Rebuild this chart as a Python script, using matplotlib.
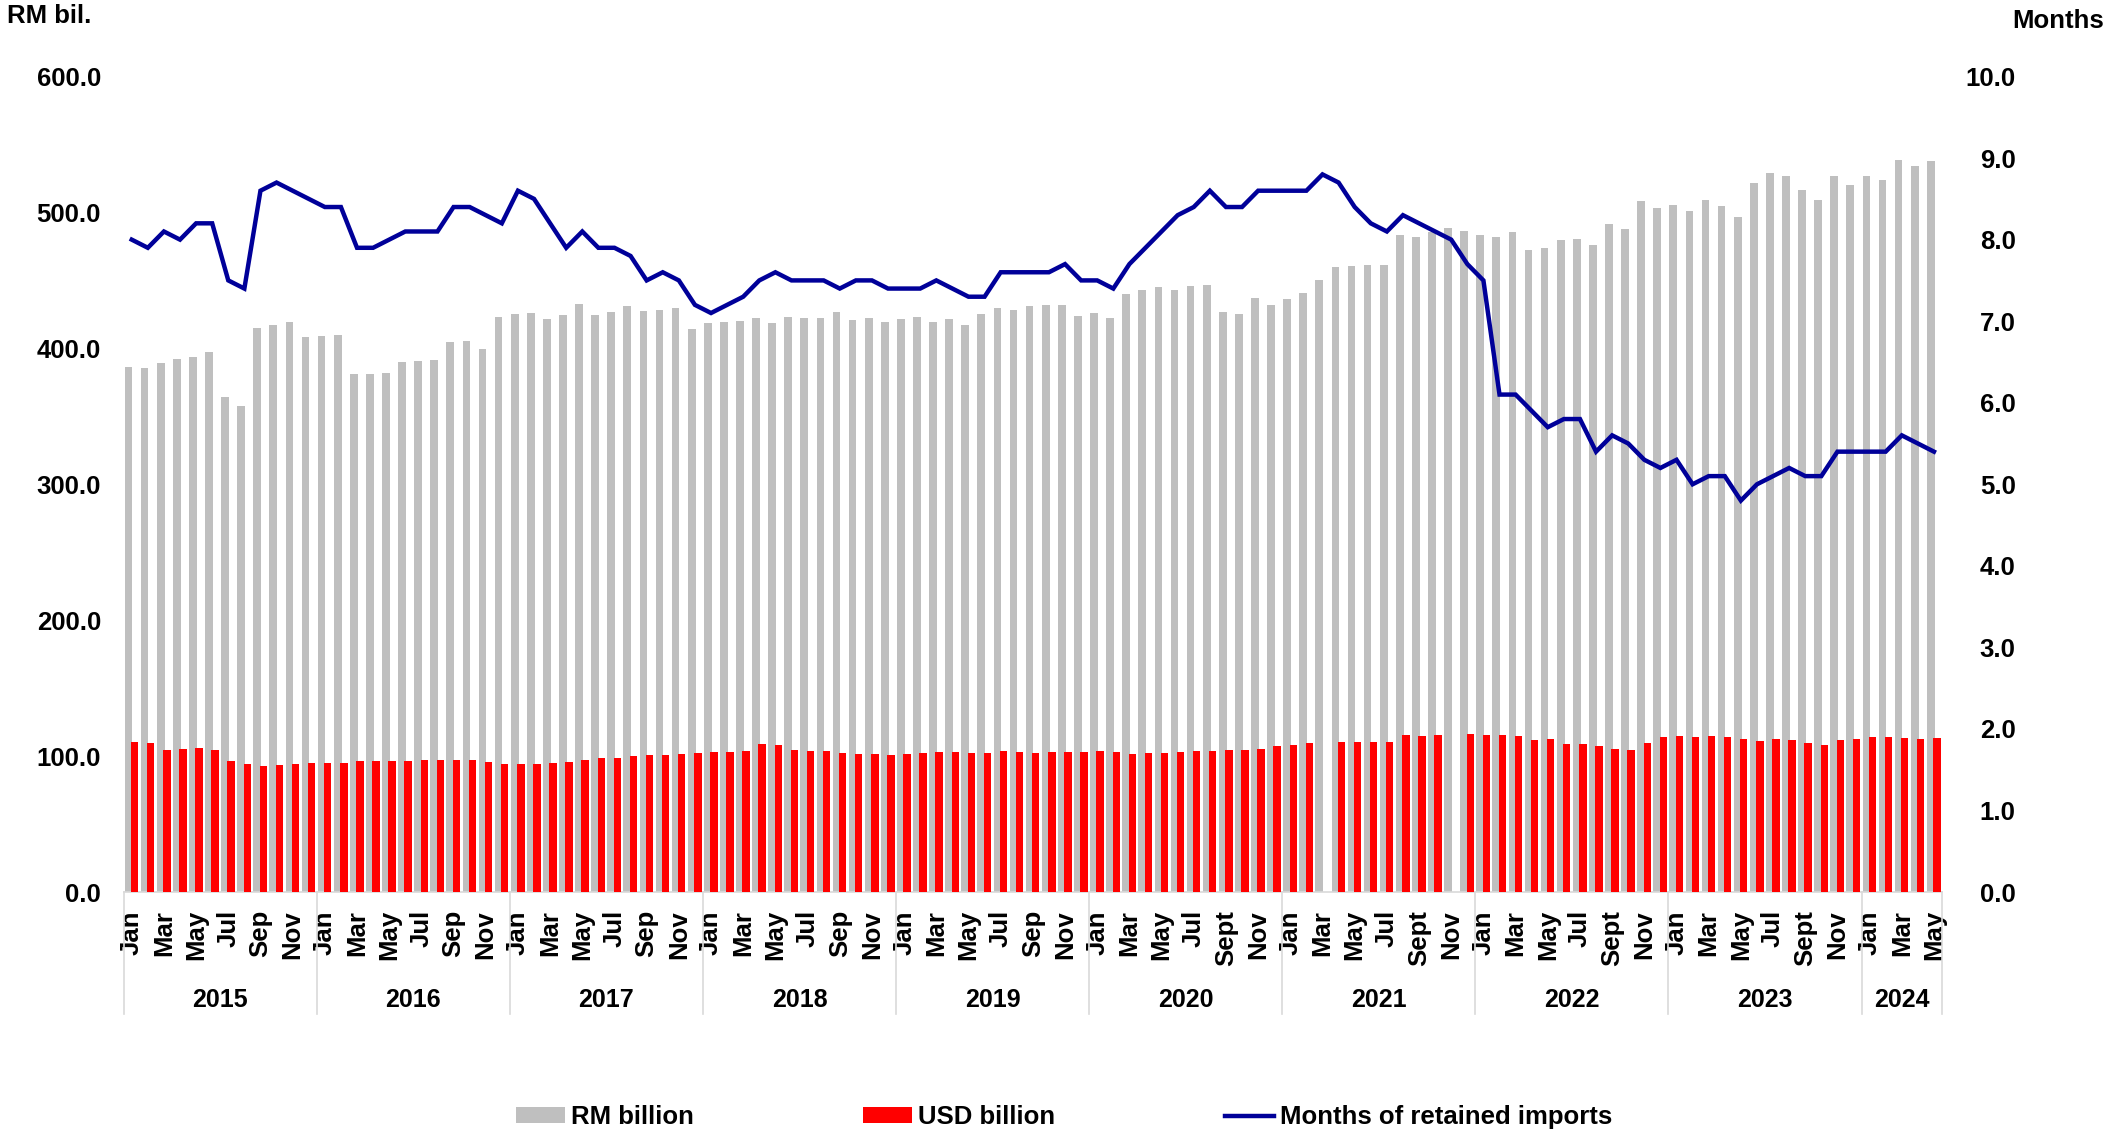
import matplotlib
matplotlib.use("Agg")
import matplotlib.pyplot as plt
import matplotlib.transforms as mtransforms
from matplotlib.patches import Patch
from matplotlib.lines import Line2D
import numpy as np

plt.rcParams['font.family'] = ['Liberation Sans', 'DejaVu Sans']
plt.rcParams['font.weight'] = 'bold'

# Jan 2015 .. May 2024, monthly
years = ["2015", "2016", "2017", "2018", "2019", "2020", "2021", "2022", "2023", "2024"]
months_per_year = [12, 12, 12, 12, 12, 12, 12, 12, 12, 5]

labels_sep = ["Jan", "", "Mar", "", "May", "", "Jul", "", "Sep", "", "Nov", ""]
labels_sept = ["Jan", "", "Mar", "", "May", "", "Jul", "", "Sept", "", "Nov", ""]
month_labels = (labels_sep * 5) + (labels_sept * 4) + ["Jan", "", "Mar", "", "May"]

rm_billion = [
    386.1, 385.6, 389.2, 392.0, 393.9, 397.6, 364.2, 357.4, 414.8, 417.5, 419.7, 408.6,
    409.4, 410.1, 381.2, 380.9, 382.1, 390.0, 390.7, 391.5, 404.7, 405.2, 399.3, 423.3,
    425.5, 425.7, 421.9, 424.8, 432.9, 424.3, 426.5, 431.2, 427.3, 428.5, 430.0, 414.0,
    418.9, 419.2, 419.9, 422.6, 418.7, 422.8, 422.4, 422.1, 426.5, 421.1, 422.4, 419.2,
    421.9, 422.8, 419.7, 421.6, 417.2, 425.3, 429.7, 428.3, 431.0, 431.7, 431.7, 423.6,
    425.8, 422.4, 439.8, 443.2, 445.4, 442.7, 446.1, 446.4, 427.0, 425.5, 436.9, 431.9,
    436.2, 440.6, 450.6, 459.5, 460.3, 461.1, 461.6, 483.4, 482.2, 485.6, 488.7, 486.5,
    483.4, 482.0, 485.4, 472.4, 473.9, 479.8, 480.5, 475.9, 491.3, 487.6, 508.5, 503.1,
    505.5, 501.3, 509.4, 504.6, 496.4, 521.7, 528.8, 526.6, 516.8, 508.9, 526.6, 520.5,
    526.6, 523.9, 538.4, 534.0, 537.9,
]

usd_billion = [
    110.1, 109.9, 104.5, 105.2, 105.7, 104.7, 96.2, 94.2, 92.7, 93.4, 93.9, 94.7,
    94.9, 95.2, 96.4, 96.4, 96.4, 96.4, 96.9, 96.9, 97.1, 97.1, 95.7, 94.0,
    94.4, 94.4, 94.9, 95.7, 97.4, 98.4, 98.9, 99.8, 100.6, 100.8, 101.5, 102.0,
    103.0, 103.3, 103.5, 109.1, 107.9, 104.2, 104.0, 104.0, 102.5, 101.3, 101.5, 100.8,
    101.8, 102.3, 102.8, 103.0, 102.0, 102.3, 103.8, 103.0, 102.5, 103.0, 103.0, 103.0,
    103.8, 103.0, 101.3, 102.0, 102.5, 103.0, 103.8, 104.0, 104.5, 104.5, 105.0, 107.2,
    108.2, 109.4, np.nan, 110.1, 110.4, 110.6, 110.4, 115.6, 114.8, 115.6, np.nan, 116.2,
    115.6, 115.3, 115.0, 111.9, 112.3, 108.7, 108.7, 107.4, 105.5, 104.5, 109.4, 113.8,
    114.8, 113.8, 115.0, 113.8, 112.3, 110.8, 112.3, 111.9, 109.4, 107.9, 111.6, 112.8,
    114.3, 113.8, 113.1, 112.3, 113.1,
]

months_import = [
    8.0, 7.9, 8.1, 8.0, 8.2, 8.2, 7.5, 7.4, 8.6, 8.7, 8.6, 8.5,
    8.4, 8.4, 7.9, 7.9, 8.0, 8.1, 8.1, 8.1, 8.4, 8.4, 8.3, 8.2,
    8.6, 8.5, 8.2, 7.9, 8.1, 7.9, 7.9, 7.8, 7.5, 7.6, 7.5, 7.2,
    7.1, 7.2, 7.3, 7.5, 7.6, 7.5, 7.5, 7.5, 7.4, 7.5, 7.5, 7.4,
    7.4, 7.4, 7.5, 7.4, 7.3, 7.3, 7.6, 7.6, 7.6, 7.6, 7.7, 7.5,
    7.5, 7.4, 7.7, 7.9, 8.1, 8.3, 8.4, 8.6, 8.4, 8.4, 8.6, 8.6,
    8.6, 8.6, 8.8, 8.7, 8.4, 8.2, 8.1, 8.3, 8.2, 8.1, 8.0, 7.7,
    7.5, 6.1, 6.1, 5.9, 5.7, 5.8, 5.8, 5.4, 5.6, 5.5, 5.3, 5.2,
    5.3, 5.0, 5.1, 5.1, 4.8, 5.0, 5.1, 5.2, 5.1, 5.1, 5.4, 5.4,
    5.4, 5.4, 5.6, 5.5, 5.4,
]

GREY = "#bfbfbf"
RED = "#ff0000"
NAVY = "#000099"
SEP = "#d9d9d9"
FS = 18.5

n = len(rm_billion)
x = np.arange(n)

fig = plt.figure(figsize=(21.07, 11.34), dpi=100)
ax = fig.add_axes([0.0587, 0.2134, 0.8630, 0.7191])

ax.bar(x - 0.2, rm_billion, width=0.48, color=GREY, zorder=2)
ax.bar(x + 0.18, usd_billion, width=0.46, color=RED, zorder=3)
ax.set_xlim(-0.5, n - 0.5)
ax.set_ylim(0, 600)

ax2 = ax.twinx()
ax2.plot(x, months_import, color=NAVY, lw=3.2, solid_joinstyle="miter", zorder=4)
ax2.set_ylim(0, 10)

for a in (ax, ax2):
    for s in a.spines.values():
        s.set_visible(False)
ax.spines["bottom"].set_visible(True)
ax.spines["bottom"].set_color(SEP)
ax.spines["bottom"].set_linewidth(1.2)

# left axis
ax.set_yticks(np.arange(0, 601, 100))
ax.set_yticklabels([f"{v:.1f}" for v in np.arange(0, 601, 100)])
ax.tick_params(axis="y", length=0, pad=16.4, labelsize=FS)

# right axis, labels right-aligned
ax2.set_yticks(np.arange(0, 11, 1))
ax2.set_yticklabels([f"{v:.1f}" for v in np.arange(0, 11, 1)])
ax2.tick_params(axis="y", length=0, pad=53, labelsize=FS)
for lab in ax2.get_yticklabels():
    lab.set_horizontalalignment("right")

# months along the bottom
ax.set_xticks(x)
ax.set_xticklabels(month_labels, rotation=90, fontsize=FS)
ax.tick_params(axis="x", length=0, pad=13)

# year groups
trans = mtransforms.blended_transform_factory(ax.transData, ax.transAxes)
bounds = np.concatenate([[0], np.cumsum(months_per_year)]) - 0.5
for b in bounds:
    ax.plot([b, b], [0, -0.149], transform=trans, color=SEP, lw=1.2, clip_on=False)
for i, yr in enumerate(years):
    ax.text((bounds[i] + bounds[i + 1]) / 2, -0.132, yr, transform=trans,
            ha="center", va="center", fontsize=18)

fig.text(7 / 2107, 1 - 16 / 1134, "RM bil.", ha="left", va="center", fontsize=FS)
fig.text(2012 / 2107, 1 - 21 / 1134, "Months", ha="left", va="center", fontsize=FS)

handles = [Patch(facecolor=GREY), Patch(facecolor=RED), Line2D([], [], color=NAVY, lw=3.2)]
fig.legend(handles, ["RM billion", "USD billion", "Months of retained imports"],
           loc="center", bbox_to_anchor=(0.505, 0.015), ncol=3, frameon=False,
           fontsize=FS, handlelength=1.9, handletextpad=0.23, columnspacing=6.6,
           handleheight=0.55)

fig.savefig("out.png", dpi=100)
